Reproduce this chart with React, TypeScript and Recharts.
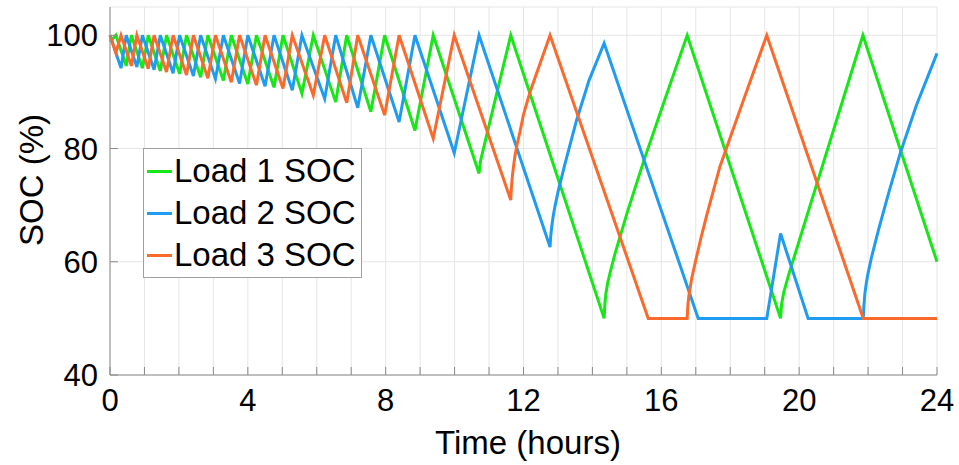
import React from 'react';
import { LineChart, Line, XAxis, YAxis, CartesianGrid, Legend } from 'recharts';

const FONT = '"Liberation Sans", Arial, Helvetica, sans-serif';

// Load 1 (green) vertices: time in hours, SOC in %
const load1Time = [0, 0.17, 0.47, 0.62, 0.94, 1.11, 1.46, 1.64, 2.02, 2.22, 2.63, 2.84, 3.29, 3.52, 4.0, 4.25, 4.76, 5.02, 5.57, 5.9, 6.55, 6.87, 7.57, 7.97, 8.85, 9.38, 10.71, 10.73, 10.76, 11.63, 14.34, 14.36, 14.39, 14.44, 14.51, 14.65, 15.0, 15.5, 16.1, 16.75, 19.46, 19.49, 19.55, 19.7, 21.85, 24];
const load1Soc = [98.8, 100, 94.6, 100, 94.2, 100, 93.7, 100, 93.2, 100, 92.6, 100, 92.0, 100, 91.4, 100, 90.8, 100, 89.7, 100, 88.2, 100, 86.5, 100, 83.2, 100, 75.6, 76.8, 78.0, 100, 50, 52.4, 54.3, 56.2, 58.0, 61.3, 68.5, 78.0, 88.6, 100, 50, 52.5, 54.5, 57.8, 100, 60.0];

// Load 2 (blue)
const load2Time = [0, 0.32, 0.47, 0.78, 0.94, 1.28, 1.46, 1.83, 2.02, 2.42, 2.63, 3.06, 3.29, 3.76, 4.0, 4.5, 4.76, 5.29, 5.57, 6.23, 6.55, 7.19, 7.57, 8.39, 8.85, 9.99, 10.71, 12.77, 12.79, 12.82, 12.86, 12.91, 13.0, 13.2, 13.54, 13.9, 14.34, 17.07, 19.06, 19.46, 20.26, 21.86, 21.88, 21.91, 21.95, 22.0, 22.1, 22.3, 22.6, 22.93, 23.4, 24];
const load2Soc = [100, 94.2, 100, 94.4, 100, 93.9, 100, 93.3, 100, 92.8, 100, 92.3, 100, 91.5, 100, 91.0, 100, 90.3, 100, 88.8, 100, 87.2, 100, 84.7, 100, 79.2, 100, 62.6, 64.5, 66.2, 68.0, 69.7, 72.3, 77.2, 85.0, 92.0, 98.6, 50, 50, 65.0, 50, 50, 52.4, 54.5, 56.3, 58.0, 60.8, 65.6, 72.2, 79.1, 87.6, 96.8];

// Load 3 (orange)
const load3Time = [0, 0.17, 0.32, 0.62, 0.78, 1.11, 1.28, 1.64, 1.83, 2.22, 2.42, 2.84, 3.06, 3.52, 3.76, 4.25, 4.5, 5.02, 5.29, 5.9, 6.23, 6.87, 7.19, 7.97, 8.39, 9.38, 9.99, 11.63, 11.65, 11.68, 11.72, 11.76, 11.82, 11.9, 12.0, 12.19, 12.77, 15.62, 16.75, 16.77, 16.8, 16.88, 17.0, 17.15, 17.32, 17.7, 18.38, 19.06, 21.86, 24];
const load3Soc = [100, 96.9, 100, 94.6, 100, 94.1, 100, 93.5, 100, 93.0, 100, 92.4, 100, 91.7, 100, 91.2, 100, 90.6, 100, 89.4, 100, 88.1, 100, 85.9, 100, 81.8, 100, 70.9, 73.2, 75.3, 77.3, 79.0, 80.9, 83.0, 86.0, 90.0, 100, 50, 50, 52.3, 54.0, 57.0, 60.3, 64.2, 68.3, 76.8, 88.5, 100, 50, 50];

const seriesNames = ['Load 1 SOC', 'Load 2 SOC', 'Load 3 SOC'];
const seriesColors = ['#17e617', '#1f9cf0', '#fa6a2c'];
const xTicks = [0, 1, 2, 3, 4, 5, 6, 7, 8, 9, 10, 11, 12, 13, 14, 15, 16, 17, 18, 19, 20, 21, 22, 23, 24];
const xLabelStep = 4;
const yTicks = [40, 60, 80, 100];

const toPoints = (ts: number[], vs: number[]) => ts.map((t, i) => ({ t, v: vs[i] }));
const seriesData = [
  toPoints(load1Time, load1Soc),
  toPoints(load2Time, load2Soc),
  toPoints(load3Time, load3Soc),
];

const AXIS_COLOR = '#8a8a8a';

function XTick(props: any) {
  const { x, y, payload } = props;
  const v = payload.value;
  return (
    <g>
      <line x1={x} x2={x} y1={y} y2={y - 8} stroke={AXIS_COLOR} strokeWidth={1} />
      {v % xLabelStep === 0 && (
        <text x={x} y={y + 36} textAnchor="middle" fontSize={31} fontFamily={FONT} fill="#000">
          {v}
        </text>
      )}
    </g>
  );
}

function YTick(props: any) {
  const { x, y, payload } = props;
  return (
    <g>
      <line x1={x} x2={x + 8} y1={y} y2={y} stroke={AXIS_COLOR} strokeWidth={1} />
      <text x={x - 12} y={y + 11} textAnchor="end" fontSize={31} fontFamily={FONT} fill="#000">
        {payload.value}
      </text>
    </g>
  );
}

const renderLegend = () => (
  <div
    style={{
      boxSizing: 'border-box',
      width: 219,
      height: 130,
      border: '1px solid #a0a0a0',
      background: '#fff',
      paddingTop: 1,
    }}
  >
    {seriesNames.map((n, i) => (
      <div key={n} style={{ display: 'flex', alignItems: 'center', height: 42 }}>
        <span
          style={{
            display: 'inline-block',
            width: 25,
            height: 3,
            background: seriesColors[i],
            marginLeft: 3,
            marginRight: 2,
          }}
        />
        <span style={{ fontFamily: FONT, fontSize: 33, lineHeight: '42px', color: '#000', whiteSpace: 'nowrap' }}>
          {n}
        </span>
      </div>
    ))}
  </div>
);

export default function App() {
  return (
    <div style={{ position: 'absolute', left: 0, top: 0, background: '#fff' }}>
      <LineChart width={959} height={465} margin={{ top: 7, right: 22, bottom: 0, left: 0 }}>
        <CartesianGrid stroke="#e6e6e6" strokeWidth={1} />
        <XAxis
          type="number"
          dataKey="t"
          domain={[0, 24]}
          ticks={xTicks}
          interval={0}
          height={90}
          tickSize={0}
          tickMargin={0}
          tickLine={false}
          axisLine={{ stroke: AXIS_COLOR }}
          tick={<XTick />}
          allowDuplicatedCategory={false}
          label={{
            content: () => (
              <text x={528} y={454} textAnchor="middle" fontSize={33} fontFamily={FONT} fill="#000">
                Time (hours)
              </text>
            ),
          }}
        />
        <YAxis
          type="number"
          domain={[40, 105]}
          ticks={yTicks}
          interval={0}
          width={110}
          tickSize={0}
          tickMargin={0}
          tickLine={false}
          axisLine={{ stroke: AXIS_COLOR }}
          tick={<YTick />}
          allowDataOverflow={true}
          label={{
            content: () => (
              <text
                x={43}
                y={180}
                transform="rotate(-90 43 180)"
                textAnchor="middle"
                fontSize={33}
                fontFamily={FONT}
                fill="#000"
              >
                SOC (%)
              </text>
            ),
          }}
        />
        <Legend
          layout="vertical"
          align="center"
          verticalAlign="middle"
          content={renderLegend}
          wrapperStyle={{ left: 143, top: 148, bottom: 'auto', right: 'auto', width: 219, height: 130 }}
        />
        {seriesData.map((d, i) => (
          <Line
            key={seriesNames[i]}
            data={d}
            dataKey="v"
            name={seriesNames[i]}
            type="linear"
            stroke={seriesColors[i]}
            strokeWidth={3}
            dot={false}
            activeDot={false}
            isAnimationActive={false}
          />
        ))}
      </LineChart>
    </div>
  );
}
